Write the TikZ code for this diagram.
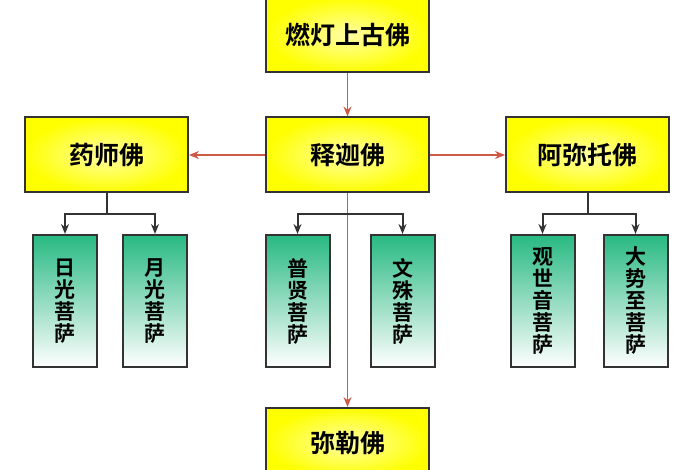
\documentclass[tikz,border=0pt]{standalone}
\usepackage{fontspec}
\newfontfamily\cjk{Noto Sans CJK SC Bold}
\usetikzlibrary{arrows.meta}
\definecolor{jade}{RGB}{40,185,130}
\definecolor{linkred}{RGB}{205,90,70}
\tikzstyle{buddha}=[draw=black!80, line width=2pt, inner color=yellow!35, outer color=yellow, minimum width=163pt, minimum height=75pt, font=\cjk\fontsize{25}{27}\selectfont]
\tikzstyle{bodhi}=[draw=black!80, line width=2pt, top color=jade, bottom color=white, minimum width=64pt, minimum height=132pt, align=center, font=\cjk\fontsize{21}{22}\selectfont]
\tikzstyle{redlink}=[-{Stealth[length=10pt, width=8pt]}, linkred, line width=1.3pt]
\tikzstyle{blacklink}=[-{Stealth[length=10pt, width=8pt]}, black!80, line width=2pt]

\begin{document}
\begin{tikzpicture}[x=1pt, y=-1pt]
    \useasboundingbox (0, 0) rectangle (700, 470);
    \node [buddha] (randeng) at (347.5, 35) {燃灯上古佛};
    \node [buddha] (yaoshi) at (106.5, 155) {药师佛};
    \node [buddha] (shijia) at (347.5, 155) {释迦佛};
    \node [buddha] (amituo) at (587.5, 155) {阿弥托佛};
    \node [buddha, minimum height=70pt] (mile) at (347.5, 443) {弥勒佛};

    \node [bodhi] (riguang) at (65, 301) {日\\光\\菩\\萨};
    \node [bodhi] (yueguang) at (155, 301) {月\\光\\菩\\萨};
    \node [bodhi] (puxian) at (297.5, 301) {普\\贤\\菩\\萨};
    \node [bodhi] (wenshu) at (402.5, 301) {文\\殊\\菩\\萨};
    \node [bodhi] (guanyin) at (542.5, 301) {观\\世\\音\\菩\\萨};
    \node [bodhi] (dashizhi) at (635.5, 301) {大\\势\\至\\菩\\萨};

    \draw [redlink] (randeng) -- (shijia);
    \draw [redlink] (shijia) -- (yaoshi);
    \draw [redlink] (shijia) -- (amituo);
    \draw [redlink] (shijia) -- (mile);

    \draw [blacklink] (yaoshi.south) -- ++(0, 20) -| (riguang.north);
    \draw [blacklink] (yaoshi.south) -- ++(0, 20) -| (yueguang.north);
    \draw [blacklink] (shijia.south) ++(0, 20) -| (puxian.north);
    \draw [blacklink] (shijia.south) ++(0, 20) -| (wenshu.north);
    \draw [blacklink] (amituo.south) -- ++(0, 20) -| (guanyin.north);
    \draw [blacklink] (amituo.south) -- ++(0, 20) -| (dashizhi.north);
\end{tikzpicture}
\end{document}
